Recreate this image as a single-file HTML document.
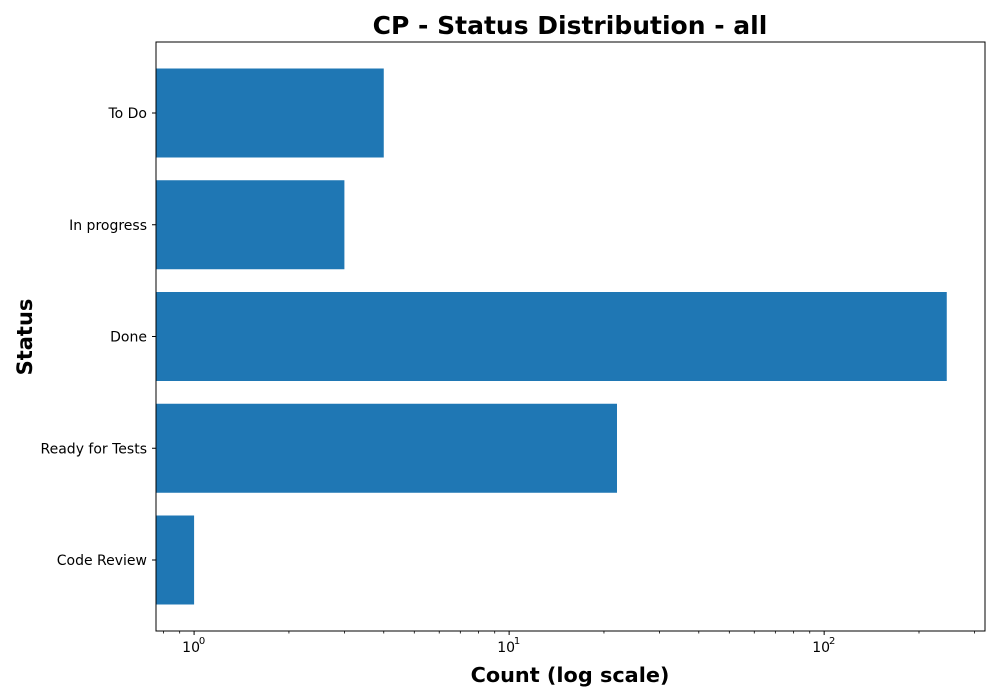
<!DOCTYPE html>
<html><head><meta charset="utf-8"><style>body{margin:0;background:#fff}svg{display:block;font-family:"DejaVu Sans","Liberation Sans",sans-serif}</style></head>
<body>
<svg id="c" width="1000" height="700"></svg>
<script>
const categories=["To Do","In progress","Done","Ready for Tests","Code Review"];
const counts=[4,3,245,22,1];
const majorTicks=[1,10,100];
const majorLabels=["0","1","2"];
const ns="http://www.w3.org/2000/svg";
const svg=document.getElementById('c');
const L=156,R=985,T=42,B=631,xmin=Math.log10(0.757),xmax=Math.log10(324);
const x=v=>L+(Math.log10(v)-xmin)/(xmax-xmin)*(R-L);
const step=111.75,y0=113,bh=89;
const y=i=>y0+i*step;
function el(t,a,txt){const e=document.createElementNS(ns,t);for(const k in a)e.setAttribute(k,a[k]);if(txt!=null)e.textContent=txt;svg.appendChild(e);return e;}
categories.forEach((c,i)=>{
 const b=el('rect',{x:L,y:y(i)-bh/2,width:x(counts[i])-L,height:bh,fill:'#1f77b4'});
 
 
 el('line',{x1:L-4,x2:L,y1:y(i),y2:y(i),stroke:'#000','stroke-width':1});
 const t=el('text',{x:L-9,y:y(i)+5,'text-anchor':'end','font-size':14},c);
 
 
});
for(let d=-1;d<=2;d++)for(let m=2;m<=9;m++){const v=m*Math.pow(10,d);if(v<0.757||v>324)continue;el('line',{x1:x(v),x2:x(v),y1:B,y2:B+2.5,stroke:'#000','stroke-width':0.8});}
majorTicks.forEach((v,i)=>{
 el('line',{x1:x(v),x2:x(v),y1:B,y2:B+4,stroke:'#000','stroke-width':1});
 const t=el('text',{x:x(v)-3,y:B+21,'text-anchor':'middle','font-size':14},'10');
 
 
 el('text',{x:x(v)+8,y:B+13,'text-anchor':'middle','font-size':10},majorLabels[i]);
});
el('rect',{x:L,y:T,width:R-L,height:B-T,fill:'none',stroke:'#000','stroke-width':1,});
el('text',{x:570,y:34,'text-anchor':'middle','font-size':25,'font-weight':'bold',},'CP - Status Distribution - all');
el('text',{x:570,y:682,'text-anchor':'middle','font-size':20.8,'font-weight':'bold',},'Count (log scale)');
el('text',{x:0,y:0,transform:'translate(32,337) rotate(-90)','text-anchor':'middle','font-size':21,'font-weight':'bold',},'Status');
</script>
</body></html>
